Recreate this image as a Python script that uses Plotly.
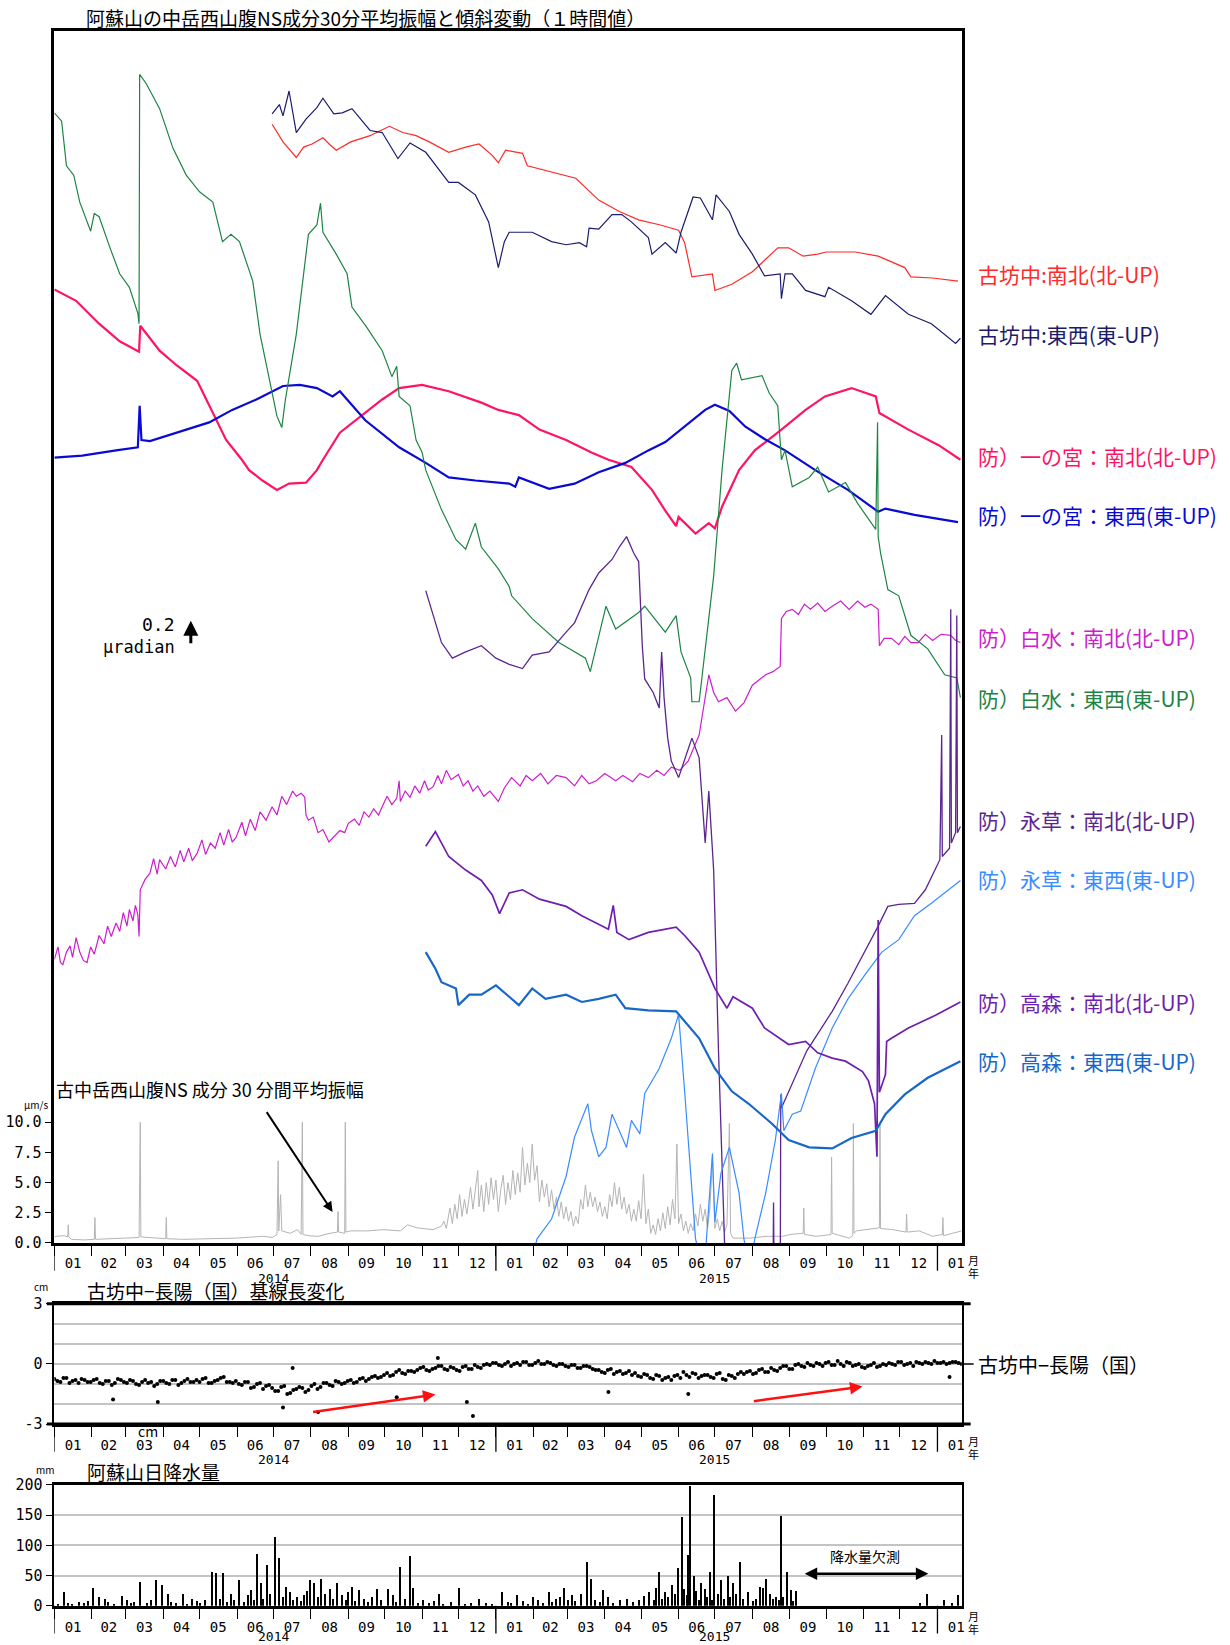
import pandas as pd
import plotly.graph_objects as go

START = "2014-01-01"
END = "2016-01-21"
T0 = pd.Timestamp(START)


def dates(days):
    return [T0 + pd.Timedelta(days=float(d)) for d in days]


# ---------------- tilt records (days since 2014-01-01, micro-radian offsets) ----------------
kbn_ns_day = [180, 189, 200, 206, 213, 222, 228, 233, 245, 261, 268, 277, 288, 299, 310, 326, 340, 351, 362, 367,
              373, 387, 391, 411, 431, 450, 467, 483, 501, 516, 521, 527, 544, 546, 560, 577, 598, 607, 619, 631,
              638, 662, 681, 703, 708, 726, 747]
kbn_ns_val = [10.77, 10.60, 10.45, 10.55, 10.58, 10.64, 10.57, 10.52, 10.60, 10.66, 10.70, 10.75, 10.69, 10.66, 10.60,
              10.50, 10.55, 10.58, 10.47, 10.40, 10.52, 10.49, 10.37, 10.31, 10.25, 10.04, 9.93, 9.85, 9.80, 9.75,
              9.63, 9.30, 9.33, 9.17, 9.23, 9.35, 9.58, 9.58, 9.50, 9.52, 9.54, 9.54, 9.50, 9.39, 9.30, 9.29, 9.26]

kbn_ew_day = [180, 186, 189, 194, 200, 208, 217, 222, 231, 238, 246, 261, 271, 284, 294, 307, 326, 334, 348, 359,
              367, 372, 376, 390, 395, 411, 423, 434, 440, 442, 450, 461, 469, 477, 491, 494, 505, 514, 518, 528,
              534, 544, 547, 558, 566, 577, 587, 600, 601, 604, 610, 621, 637, 640, 659, 675, 687, 706, 725, 745, 749]
kbn_ew_val = [10.87, 10.96, 10.85, 11.09, 10.69, 10.82, 10.93, 11.02, 10.87, 10.88, 10.92, 10.71, 10.69, 10.44, 10.59,
              10.50, 10.21, 10.21, 10.09, 9.83, 9.39, 9.64, 9.73, 9.73, 9.73, 9.64, 9.61, 9.63, 9.59, 9.77,
              9.76, 9.90, 9.90, 9.83, 9.68, 9.52, 9.63, 9.53, 9.73, 10.07, 10.06, 9.85, 10.09, 9.93, 9.71,
              9.52, 9.31, 9.33, 9.09, 9.33, 9.33, 9.17, 9.11, 9.20, 9.07, 8.94, 9.12, 8.94, 8.85, 8.66, 8.71]

ichi_ns_day = [0, 18, 37, 54, 70, 71, 87, 101, 118, 128, 142, 155, 161, 172, 184, 194, 208, 217, 222, 236,
               249, 271, 285, 304, 326, 353, 367, 384, 401, 423, 444, 458, 477, 494, 505, 514, 516, 530, 541, 546,
               552, 566, 579, 588, 601, 621, 637, 659, 679, 682, 706, 731, 749]
ichi_ns_val = [9.18, 9.07, 8.85, 8.68, 8.58, 8.83, 8.59, 8.45, 8.30, 8.06, 7.73, 7.54, 7.44, 7.34, 7.25, 7.31, 7.32,
               7.44, 7.54, 7.80, 7.92, 8.12, 8.23, 8.26, 8.20, 8.09, 8.02, 7.97, 7.83, 7.73, 7.61, 7.54, 7.47, 7.25,
               7.05, 6.90, 6.99, 6.83, 6.93, 6.88, 7.09, 7.44, 7.63, 7.71, 7.83, 8.02, 8.15, 8.23, 8.15, 7.99,
               7.83, 7.68, 7.54]

ichi_ew_day = [0, 23, 51, 69, 70.5, 72, 79, 107, 128, 147, 167, 189, 203, 217, 230, 236, 244, 257, 285, 307,
               326, 348, 376, 381, 384, 409, 430, 450, 472, 491, 505, 521, 538, 546, 558, 571, 587, 604, 629, 656,
               681, 687, 711, 747]
ichi_ew_val = [7.56, 7.58, 7.63, 7.66, 8.06, 7.73, 7.72, 7.82, 7.90, 8.02, 8.12, 8.25, 8.26, 8.23, 8.15, 8.20, 8.09,
               7.92, 7.66, 7.51, 7.37, 7.34, 7.31, 7.28, 7.37, 7.26, 7.31, 7.42, 7.51, 7.63, 7.71, 7.86, 8.02, 8.07,
               8.01, 7.86, 7.74, 7.63, 7.44, 7.25, 7.04, 7.07, 7.01, 6.94]

shira_ns_day = [0, 3, 5, 7, 10, 13, 15, 18, 21, 24, 27, 30, 33, 37, 41, 44, 47, 51, 54, 57,
                60, 62, 65, 67, 69, 70, 71, 75, 79, 82, 85, 87, 92, 96, 100, 104, 107, 111, 114, 118,
                122, 125, 129, 133, 137, 140, 144, 147, 150, 155, 158, 162, 166, 170, 175, 180, 184, 188, 192, 197,
                200, 204, 207, 208, 210, 214, 218, 222, 227, 232, 236, 240, 243, 248, 252, 256, 260, 264, 268, 271,
                275, 279, 283, 285, 286, 290, 294, 298, 302, 306, 309, 313, 317, 320, 324, 328, 334, 338, 342, 346,
                350, 355, 360, 367, 372, 378, 385, 390, 395, 402, 408, 415, 423, 430, 436, 442, 448, 455, 464, 470,
                478, 484, 491, 498, 504, 510, 517, 524, 533, 541, 545, 549, 556, 563, 570, 577, 583, 588, 594, 598,
                600, 601, 605, 610, 615, 620, 625, 631, 637, 643, 650, 657, 664, 670, 675, 681, 682, 686, 692, 698,
                703, 708, 714, 720, 726, 733, 741, 745, 749]
shira_ns_val = [2.73, 2.85, 2.70, 2.68, 2.80, 2.86, 2.75, 2.94, 2.80, 2.72, 2.70, 2.85, 2.78, 2.96, 2.88, 3.05, 2.95,
                3.08, 3.00, 3.18, 3.05, 3.21, 3.10, 3.25, 3.16, 2.95, 3.40, 3.50, 3.56, 3.70, 3.55, 3.69, 3.60, 3.72,
                3.62, 3.78, 3.67, 3.80, 3.68, 3.75, 3.88, 3.74, 3.85, 3.80, 3.95, 3.83, 3.98, 3.86, 3.90, 4.05, 3.92,
                4.08, 3.97, 4.15, 4.07, 4.20, 4.12, 4.30, 4.22, 4.35, 4.30, 4.33, 4.29, 4.12, 4.07, 4.10, 3.95, 3.98,
                3.86, 3.92, 3.97, 3.95, 4.04, 4.08, 4.02, 4.15, 4.10, 4.18, 4.12, 4.20, 4.30, 4.22, 4.28, 4.45, 4.25,
                4.35, 4.29, 4.40, 4.33, 4.45, 4.36, 4.39, 4.50, 4.42, 4.55, 4.46, 4.51, 4.40, 4.45, 4.35, 4.40, 4.30,
                4.35, 4.25, 4.38, 4.48, 4.40, 4.50, 4.45, 4.52, 4.42, 4.50, 4.48, 4.40, 4.50, 4.42, 4.45, 4.52, 4.45,
                4.50, 4.44, 4.52, 4.48, 4.55, 4.50, 4.58, 4.55, 4.64, 4.89, 5.47, 5.30, 5.21, 5.25, 5.12, 5.20, 5.37,
                5.42, 5.47, 5.50, 5.53, 5.55, 6.01, 6.08, 6.10, 6.05, 6.15, 6.10, 6.16, 6.08, 6.13, 6.18, 6.10, 6.18,
                6.12, 6.15, 6.10, 5.75, 5.82, 5.82, 5.76, 5.84, 5.78, 5.78, 5.86, 5.80, 5.86, 5.85, 5.80, 5.78]

shira_ew_day = [0, 6, 10, 16, 21, 27, 30, 33, 37, 46, 54, 62, 69, 70, 70.5, 76, 87, 98, 109, 120,
                131, 139, 146, 153, 164, 170, 178, 184, 188, 191, 200, 210, 217, 220, 222, 233, 242, 246, 258, 271,
                279, 283, 285, 294, 299, 304, 307, 320, 332, 340, 348, 353, 367, 376, 378, 395, 417, 439, 443, 456,
                464, 483, 488, 505, 514, 518, 526, 527, 533, 545, 552, 560, 564, 568, 585, 591, 598, 601, 604, 610,
                624, 631, 640, 654, 664, 679, 680.5, 681, 683, 689, 698, 708, 722, 736, 746, 749]
shira_ew_val = [10.88, 10.80, 10.37, 10.28, 10.02, 9.83, 9.74, 9.91, 9.88, 9.58, 9.33, 9.20, 8.95, 8.85, 11.25,
                11.16, 10.92, 10.54, 10.28, 10.12, 10.02, 9.64, 9.71, 9.64, 9.26, 8.75, 8.31, 7.96, 7.85, 8.12,
                8.75, 9.71, 9.80, 10.01, 9.73, 9.52, 9.33, 9.01, 8.82, 8.59, 8.34, 8.44, 8.15, 8.06, 7.73, 7.61,
                7.44, 7.06, 6.77, 6.68, 6.93, 6.70, 6.49, 6.32, 6.23, 6.01, 5.78, 5.63, 5.50, 6.13, 5.91, 6.07,
                6.13, 5.88, 6.04, 5.69, 5.44, 5.21, 5.21, 6.42, 7.45, 8.40, 8.47, 8.31, 8.35, 8.18, 8.06, 7.54,
                7.63, 7.28, 7.37, 7.47, 7.23, 7.32, 7.12, 6.87, 7.90, 6.80, 6.64, 6.29, 6.23, 5.85, 5.72, 5.47,
                5.44, 5.25]

eiso_ns_day = [307, 313, 320, 329, 340, 353, 365, 376, 387, 395, 409, 423, 430, 442, 450, 461, 467, 473, 479, 483,
               486, 488, 495, 500, 502, 504, 507, 510, 516, 527, 533, 538, 541, 545, 549, 554, 560, 594, 594.5, 595,
               600, 600.5, 601, 622, 643, 656, 670, 681, 689, 698, 711, 720, 732, 733.5, 734, 740, 741, 741.5, 745,
               746, 746.5, 749]
eiso_ns_val = [6.28, 6.04, 5.78, 5.63, 5.69, 5.75, 5.63, 5.57, 5.53, 5.66, 5.69, 5.88, 5.97, 6.29, 6.45, 6.58, 6.70,
               6.80, 6.64, 6.56, 5.75, 5.43, 5.30, 5.15, 5.69, 5.25, 4.86, 4.64, 4.48, 4.86, 4.67, 3.85, 4.35, 3.59,
               1.85, 0.0, -0.4, -0.4, 0.39, -0.4, -0.4, 1.43, 1.30, 1.85, 2.23, 2.50, 2.80, 3.05, 3.24, 3.26, 3.27,
               3.40, 3.69, 4.89, 3.72, 3.80, 6.10, 3.85, 3.95, 6.04, 3.95, 4.01]

eiso_ew_day = [392, 399, 411, 423, 430, 441, 444, 450, 456, 461, 467, 473, 477, 484, 488, 500, 510, 516, 521, 526,
               530, 537, 544, 546, 551, 558, 566, 570, 575, 579, 588, 596, 601, 603, 610, 617, 629, 643, 656, 670,
               684, 698, 711, 725, 739, 749]
eiso_ew_val = [-0.3, 0.04, 0.23, 0.64, 1.02, 1.34, 1.08, 0.83, 0.92, 1.24, 1.08, 0.92, 1.18, 1.05, 1.44, 1.68, 1.97,
               2.20, 1.46, 0.67, 0.04, -0.3, 0.86, 0.20, 0.67, 0.92, 0.48, 0.04, -0.3, 0.04, 0.48, 0.99, 1.44, 1.08,
               1.24, 1.27, 1.68, 2.07, 2.35, 2.58, 2.80, 2.92, 3.15, 3.27, 3.40, 3.49]

taka_ns_day = [307, 315, 326, 340, 353, 362, 368, 376, 387, 401, 423, 436, 458, 462, 465, 475, 491, 514, 521, 533,
               546, 556, 561, 577, 587, 607, 621, 631, 643, 654, 668, 673, 678, 680, 681, 682, 687, 688, 692, 706,
               717, 728, 749]
taka_ns_val = [3.82, 3.96, 3.72, 3.59, 3.49, 3.35, 3.17, 3.37, 3.40, 3.31, 3.24, 3.15, 3.02, 3.25, 2.99, 2.92, 2.99,
               3.04, 2.96, 2.80, 2.45, 2.26, 2.37, 2.26, 2.07, 1.91, 1.94, 1.83, 1.78, 1.75, 1.65, 1.56, 1.34, 0.83,
               3.11, 1.45, 1.62, 1.94, 1.97, 2.07, 2.13, 2.19, 2.32]

taka_ew_day = [307, 315, 320, 332, 334, 343, 353, 365, 376, 384, 395, 406, 423, 436, 450, 464, 472, 491, 514, 521,
               533, 546, 560, 574, 593, 607, 624, 643, 659, 679, 687, 703, 722, 749]
taka_ew_val = [2.80, 2.64, 2.51, 2.45, 2.29, 2.39, 2.39, 2.48, 2.37, 2.29, 2.45, 2.35, 2.39, 2.32, 2.35, 2.39, 2.26,
               2.24, 2.23, 2.13, 1.97, 1.68, 1.46, 1.34, 1.15, 0.99, 0.92, 0.91, 1.01, 1.08, 1.24, 1.43, 1.59, 1.75]

# ---------------- 30-minute mean amplitude, NS component (um/s) ----------------
amp_day = [0, 1.4, 8, 11, 11.5, 12, 14, 25, 33, 33.5, 34, 53, 70, 71, 71.5, 85, 92, 92.5, 93, 107, 135, 150, 173,
           180, 184, 185, 185.5, 187, 188, 195, 201, 204, 205, 205.5, 210, 218, 228, 234, 234.5, 235, 240, 240.5,
           241, 245, 259, 272, 286, 292, 300, 313,
           320, 322, 324, 327, 329, 331, 333, 335, 337, 339, 341, 344, 346, 348, 350, 351, 353, 355, 357, 359,
           361, 363, 365, 367, 369, 371, 373, 375, 377, 379, 381, 383, 385, 387, 389, 391, 393, 395, 397, 399,
           401, 403, 405, 407, 409, 411, 413, 415, 417, 419, 421, 423, 425, 427, 429, 431, 433, 435, 437, 439,
           441, 443, 445, 447, 449, 451, 453, 455, 457, 459, 461, 463, 465, 467, 469, 471, 473, 475, 477, 479,
           481, 483, 485, 487, 489, 491, 493, 495, 497, 499, 501, 503, 505, 507, 509, 511, 513, 514.6, 516, 518,
           520, 522, 524, 526, 528, 530, 532, 534, 536, 538, 540, 542, 544, 546, 548, 550, 552, 554, 556, 558,
           559, 561, 575, 589, 602, 608, 619, 619.5, 620, 630, 642, 642.5, 643, 657, 660, 660.5, 661, 663,
           671, 682, 682.5, 683, 693, 704, 704.5, 705, 715, 726, 734, 734.5, 735, 750]
amp_val = [0.5, 0.55, 0.6, 0.5, 1.5, 0.5, 0.3, 0.25, 0.3, 2.1, 0.3, 0.4, 0.45, 10.0, 0.5, 0.4, 0.35, 2.1, 0.35, 0.3,
           0.35, 0.4, 0.55, 0.45, 0.7, 6.8, 1.0, 4.0, 1.0, 0.8, 1.1, 0.7, 10.0, 0.7, 0.6, 0.55, 0.8, 0.9, 2.6, 0.9,
           0.8, 10.0, 0.9, 1.0, 1.0, 1.1, 1.0, 1.5, 1.25, 1.1,
           1.4, 1.8, 1.2, 2.9, 1.6, 3.2, 2.0, 4.0, 2.2, 3.6, 2.4, 4.6, 2.8, 4.2, 6.0, 3.0, 4.8, 2.6, 5.0, 3.2,
           5.4, 3.6, 5.2, 2.6, 4.4, 5.6, 3.2, 5.0, 3.6, 6.0, 4.0, 5.8, 4.2, 7.9, 4.8, 6.6, 5.0, 8.2, 5.2, 6.4,
           3.4, 5.2, 3.8, 4.9, 3.0, 4.4, 2.8, 3.8, 2.2, 3.4, 2.0, 3.0, 1.8, 2.6, 1.4, 2.2, 1.6, 3.6, 2.8, 4.8,
           3.0, 4.2, 3.0, 3.8, 2.6, 3.4, 2.2, 3.0, 2.0, 4.0, 3.0, 5.0, 3.2, 4.6, 2.8, 3.8, 2.4, 3.2, 1.8, 2.8,
           1.8, 3.5, 2.0, 5.7, 1.6, 2.8, 0.8, 1.5, 0.7, 2.0, 1.0, 2.5, 1.2, 3.0, 1.5, 3.6, 2.0, 8.2, 1.6, 2.4,
           1.0, 1.8, 0.8, 1.6, 1.0, 2.4, 1.4, 3.2, 1.8, 2.8, 1.2, 3.0, 7.1, 1.2, 2.0, 1.0, 1.8, 0.9, 1.5, 9.9,
           0.8, 0.4, 0.4, 0.55, 0.55, 0.7, 0.8, 2.9, 0.7, 0.55, 0.7, 7.1, 0.8, 0.4, 0.6, 9.9, 0.8, 1.0,
           1.1, 1.25, 10.0, 1.2, 1.1, 0.9, 2.4, 0.9, 1.0, 0.55, 0.7, 2.1, 0.6, 1.0]

# ---------------- GNSS baseline length change (cm), two interleaved 5-day series ----------------
base_cm = [
    -0.75, -0.90, -0.70, -0.85, -0.95, -0.80,   # 2014-01
    -0.90, -0.75, -1.00, -0.85, -0.95, -0.80,   # 2014-02
    -0.95, -0.85, -1.05, -0.80, -0.90, -1.00,   # 2014-03
    -0.85, -1.00, -0.80, -0.95, -0.75, -0.90,   # 2014-04
    -0.90, -0.70, -0.95, -0.80, -0.65, -0.90,   # 2014-05
    -0.85, -1.05, -0.90, -1.15, -0.95, -1.10,   # 2014-06
    -1.20, -1.35, -1.10, -1.45, -1.25, -1.20,   # 2014-07
    -1.30, -1.00, -1.15, -0.95, -1.10, -0.90,   # 2014-08
    -0.95, -0.80, -0.90, -0.70, -0.75, -0.60,   # 2014-09
    -0.65, -0.45, -0.55, -0.30, -0.50, -0.35,   # 2014-10
    -0.30, -0.15, -0.35, -0.20, -0.10, -0.30,   # 2014-11
    -0.20, -0.35, -0.10, -0.25, -0.15, -0.05,   # 2014-12
    -0.05, 0.05, -0.10, 0.10, 0.00, -0.05,      # 2015-01
    0.10, -0.05, 0.15, 0.00, 0.05, -0.10,       # 2015-02
    0.00, -0.15, -0.05, -0.20, -0.10, -0.25,    # 2015-03
    -0.30, -0.45, -0.25, -0.40, -0.50, -0.35,   # 2015-04
    -0.45, -0.65, -0.55, -0.75, -0.60, -0.70,   # 2015-05
    -0.80, -0.55, -0.40, -0.65, -0.50, -0.60,   # 2015-06
    -0.55, -0.70, -0.45, -0.80, -0.60, -0.50,   # 2015-07
    -0.50, -0.35, -0.45, -0.25, -0.40, -0.30,   # 2015-08
    -0.20, -0.10, -0.25, 0.00, -0.15, -0.05,    # 2015-09
    0.05, -0.10, 0.10, -0.05, 0.00, 0.10,       # 2015-10
    -0.10, 0.00, -0.20, -0.05, -0.15, 0.00,     # 2015-11
    0.05, -0.05, 0.10, 0.00, -0.10, 0.05,       # 2015-12
    0.10, 0.00, 0.05, 0.10, 0.05, 0.10, 0.00,   # 2016-01
]
base_cm_mid = [
    -0.85, -0.70, -0.95, -0.80, -0.75, -0.90,   # 2014-01
    -0.80, -0.95, -0.85, -1.05, -0.75, -0.90,   # 2014-02
    -0.80, -1.00, -0.90, -0.95, -1.10, -0.85,   # 2014-03
    -0.95, -0.80, -1.05, -0.85, -0.90, -0.80,   # 2014-04
    -0.75, -0.95, -0.85, -0.70, -0.90, -0.95,   # 2014-05
    -1.00, -0.90, -1.20, -1.00, -1.25, -1.05,   # 2014-06
    -1.35, -1.15, -1.50, -1.30, -1.15, -1.40,   # 2014-07
    -1.10, -1.25, -0.95, -1.05, -0.85, -1.00,   # 2014-08
    -0.85, -0.95, -0.75, -0.85, -0.65, -0.70,   # 2014-09
    -0.55, -0.60, -0.40, -0.45, -0.35, -0.40,   # 2014-10
    -0.20, -0.30, -0.25, -0.10, -0.25, -0.15,   # 2014-11
    -0.30, -0.15, -0.25, -0.05, -0.20, 0.00,    # 2014-12
    0.05, -0.05, 0.00, -0.10, 0.05, 0.10,       # 2015-01
    -0.05, 0.05, 0.00, 0.10, -0.05, 0.00,       # 2015-02
    -0.10, -0.05, -0.20, -0.10, -0.15, -0.30,   # 2015-03
    -0.40, -0.30, -0.50, -0.35, -0.45, -0.55,   # 2015-04
    -0.60, -0.50, -0.70, -0.55, -0.80, -0.65,   # 2015-05
    -0.60, -0.70, -0.55, -0.45, -0.70, -0.55,   # 2015-06
    -0.65, -0.50, -0.75, -0.55, -0.70, -0.40,   # 2015-07
    -0.40, -0.50, -0.30, -0.40, -0.20, -0.35,   # 2015-08
    -0.10, -0.25, -0.05, -0.10, 0.05, -0.10,    # 2015-09
    0.00, 0.05, -0.05, 0.15, -0.10, 0.05,       # 2015-10
    -0.05, -0.15, -0.10, 0.05, -0.10, -0.05,    # 2015-11
    0.00, 0.10, -0.05, 0.05, 0.10, 0.00,        # 2015-12
    0.05, 0.15, 0.05, 0.00, 0.10, 0.05, 0.10,   # 2016-01
]
base_step_days = 5
base_out_day = [48.5, 85.5, 189, 197, 218, 283, 317, 341, 346, 458, 524, 740]
base_out_cm = [-1.77, -1.90, -2.17, -0.20, -2.40, -1.66, 0.30, -1.90, -2.60, -1.40, -1.50, -0.65]

# ---------------- daily precipitation at Asosan (mm) ----------------
rain_day = [3, 8, 12, 15, 21, 25, 28, 32, 37, 42, 45, 50, 56, 60, 64, 66, 71, 77, 80, 84, 89, 94, 97, 101, 107,
            110, 114, 118, 121, 125, 131, 134, 137, 140, 143, 146, 149, 153, 157, 160, 163, 165, 168, 171, 173,
            176, 179, 183, 186, 189, 192, 195, 198, 201, 204, 207, 209, 212, 215, 218, 221, 224, 228, 231, 234,
            238, 241, 243, 246, 249, 252, 256, 260, 263, 267, 270, 276, 280, 283, 286, 290, 294, 297, 301, 305,
            310, 314, 318, 322, 328, 335, 340, 345, 351, 357, 362, 370, 375, 378, 383, 388, 392, 396, 400, 404,
            409, 412, 415, 418, 422, 425, 428, 431, 436, 441, 444, 447, 451, 454, 458, 462, 468, 474, 479, 484,
            488, 492, 496, 498, 500, 503, 505, 508, 511, 513, 516, 519, 521, 523, 524, 526, 529, 531, 533, 535,
            538, 540, 542, 544, 546, 549, 551, 554, 557, 559, 561, 564, 567, 570, 574, 578, 580, 584, 586, 589,
            592, 594, 597, 599, 601, 603, 606, 609, 611, 613, 716, 722, 736, 742, 747]
rain_mm = [3, 22, 4, 2, 7, 5, 8, 29, 15, 12, 6, 3, 16, 10, 4, 6, 40, 5, 9, 43, 35, 19, 7, 4, 20,
           3, 12, 8, 5, 10, 56, 55, 12, 55, 7, 20, 9, 42, 6, 18, 26, 9, 85, 38, 12,
           67, 20, 114, 79, 15, 31, 23, 10, 14, 8, 18, 25, 42, 37, 15, 45, 20, 28, 12, 37,
           18, 10, 22, 31, 8, 26, 12, 6, 14, 28, 10, 27, 18, 6, 64, 12, 82, 30, 4, 10,
           5, 8, 20, 3, 6, 29, 3, 5, 12, 4, 3, 23, 6, 4, 18, 8, 3, 15, 10, 5,
           23, 7, 12, 15, 29, 10, 18, 8, 20, 73, 45, 9, 6, 26, 14, 5, 10, 12, 6, 9,
           16, 23, 10, 30, 56, 12, 23, 15, 35, 20, 62, 147, 28, 18, 84, 199, 50, 25, 10, 37,
           28, 15, 56, 10, 184, 20, 42, 12, 50, 15, 37, 20, 73, 12, 23, 8, 12, 31, 30, 45,
           20, 12, 15, 10, 148, 15, 56, 26, 8, 24, 5, 20, 9, 4, 18]

# ---------------- series styling: label, colour, data, line width, label row (px) ----------------
TILT = [
    ("古坊中:南北(北-UP)", "#ff2a2a", kbn_ns_day, kbn_ns_val, 1.2, 268),
    ("古坊中:東西(東-UP)", "#1c1c6c", kbn_ew_day, kbn_ew_val, 1.2, 329),
    ("防）一の宮：南北(北-UP)", "#ff1464", ichi_ns_day, ichi_ns_val, 2.2, 452),
    ("防）一の宮：東西(東-UP)", "#0a0ad2", ichi_ew_day, ichi_ew_val, 2.2, 512),
    ("防）白水：南北(北-UP)", "#cc1fcc", shira_ns_day, shira_ns_val, 1.2, 635),
    ("防）白水：東西(東-UP)", "#1e8444", shira_ew_day, shira_ew_val, 1.2, 697),
    ("防）永草：南北(北-UP)", "#5c2590", eiso_ns_day, eiso_ns_val, 1.3, 820),
    ("防）永草：東西(東-UP)", "#3a8cff", eiso_ew_day, eiso_ew_val, 1.2, 880),
    ("防）高森：南北(北-UP)", "#6e1fb0", taka_ns_day, taka_ns_val, 1.7, 1004),
    ("防）高森：東西(東-UP)", "#1767c8", taka_ew_day, taka_ew_val, 2.2, 1064),
]

W, H = 1230, 1645
XL, XR = 54.5, 964.0
TOP = (22.0, 1247.6)
BASE = (1309.1, 1430.7)
RAIN = (1492.3, 1614.4)
JP = "Noto Sans CJK JP"
MONO = "DejaVu Sans Mono"


def px(x, y):
    return x / W, 1 - y / H


def dom(a, b):
    return [1 - b / H, 1 - a / H]


fig = go.Figure()

# amplitude first so the tilt curves sit on top of it
fig.add_trace(go.Scatter(x=dates(amp_day), y=amp_val, mode="lines", xaxis="x", yaxis="y",
                         line=dict(color="#b4b4b4", width=1), hoverinfo="skip"))

for name, color, d, v, lw, _ in TILT:
    fig.add_trace(go.Scatter(x=dates(d), y=v, mode="lines", xaxis="x", yaxis="y2", name=name,
                             line=dict(color=color, width=lw)))

base_days = [i * base_step_days for i in range(len(base_cm))]
base_days_mid = [2.5 + i * base_step_days for i in range(len(base_cm_mid))]
for bx, by in ((base_days, base_cm), (base_days_mid, base_cm_mid), (base_out_day, base_out_cm)):
    fig.add_trace(go.Scatter(x=dates(bx), y=by, mode="markers", xaxis="x2", yaxis="y3",
                             marker=dict(color="black", size=4)))

fig.add_trace(go.Bar(x=dates(rain_day), y=rain_mm, xaxis="x3", yaxis="y4",
                     marker=dict(color="black", line=dict(width=0)), width=86400000 * 0.9))

xcommon = dict(type="date", range=[START, END], dtick="M1", tick0=START, tickformat="%m",
               ticklabelmode="period", ticks="outside", ticklen=10, tickwidth=1.3, tickcolor="black",
               ticklabelstandoff=-4,
               showgrid=False, zeroline=False, showline=True, linecolor="black", mirror=True,
               tickfont=dict(family=MONO, size=14, color="black"), domain=[XL / W, XR / W])
ycommon = dict(ticks="outside", ticklen=7, tickwidth=1.3, tickcolor="black", zeroline=False,
               showline=True, linecolor="black", mirror=True,
               tickfont=dict(family=MONO, size=15, color="black"))

fig.update_layout(
    width=W, height=H, margin=dict(l=0, r=0, t=0, b=0),
    paper_bgcolor="white", plot_bgcolor="white", showlegend=False, bargap=0,
    xaxis=dict(**xcommon, anchor="y", linewidth=2.5),
    yaxis=dict(**ycommon, domain=dom(*TOP), range=[0, 100.4], linewidth=2.5,
               tickvals=[0, 2.5, 5, 7.5, 10], ticktext=["0.0", "2.5", "5.0", "7.5", "10.0"], showgrid=False),
    yaxis2=dict(overlaying="y", anchor="x", range=[0, 11.67], visible=False),
    xaxis2=dict(**xcommon, anchor="y3", linewidth=3),
    yaxis3=dict(**ycommon, domain=dom(*BASE), range=[-3, 3], linewidth=1.5,
                tickvals=[-3, 0, 3], ticktext=["-3", "0", "3"], showgrid=False,
                minor=dict(tickvals=[-2, -1, 0, 1, 2], showgrid=True, gridcolor="#c4c4c4", gridwidth=2, ticks="")),
    xaxis3=dict(**xcommon, anchor="y4", linewidth=3),
    yaxis4=dict(**ycommon, domain=dom(*RAIN), range=[0, 200], linewidth=1.5,
                tickvals=[0, 50, 100, 150, 200], showgrid=True, gridcolor="#c4c4c4", gridwidth=2),
)

ann = []
shapes = []


def text(x, y, s, size, color="black", family=JP, xanchor="left"):
    ax, ay = px(x, y)
    ann.append(dict(x=ax, y=ay, xref="paper", yref="paper", text=s, showarrow=False, xanchor=xanchor,
                    yanchor="middle", font=dict(family=family, size=size, color=color)))


# titles and unit labels
text(84, 9, "阿蘇山の中岳西山腹NS成分30分平均振幅と傾斜変動（１時間値）", 19)
text(54, 1092, "古中岳西山腹NS 成分 30 分間平均振幅", 18)
text(85, 1296, "古坊中−長陽（国）基線長変化", 19)
text(85, 1479, "阿蘇山日降水量", 19)
text(22, 1108, "μm/s", 10)
text(32, 1292, "cm", 10)
text(34, 1477, "mm", 10)
text(136, 1438, "cm", 14)
text(867, 1564, "降水量欠測", 14, xanchor="center")
text(177, 622, "0.2", 18, family=MONO, xanchor="right")
text(177, 645, "μradian", 17, family=MONO, xanchor="right")
text(978, 1371, "古坊中−長陽（国）", 20)

for name, color, _, _, _, ypos in TILT:
    text(978, ypos, name, 21, color=color)

# month/year markers below each time axis
for bottom, ypx in ((TOP[1], 1284), (BASE[1], 1467), (RAIN[1], 1646)):
    for yr in ("2014", "2015"):
        ann.append(dict(x=f"{yr}-07-01", y=px(0, ypx)[1], xref="x", yref="paper", text=yr, showarrow=False,
                        xanchor="center", yanchor="middle", font=dict(family=MONO, size=13, color="black")))
    text(976, min(ypx, 1644) - 19, "月", 11, xanchor="center")
    text(976, min(ypx, 1644) - 6, "年", 11, xanchor="center")
    for yb in ("2014-01-01", "2015-01-01", "2016-01-01"):
        shapes.append(dict(type="line", xref="x", yref="paper", x0=yb, x1=yb,
                           y0=1 - bottom / H, y1=1 - (bottom + 28) / H, line=dict(color="black", width=1.3)))

# heavy frame lines of the baseline panel extend past the plot edges
for ypx in BASE:
    shapes.append(dict(type="line", xref="paper", yref="paper", x0=47 / W, x1=973 / W,
                       y0=1 - ypx / H, y1=1 - ypx / H, line=dict(color="black", width=3)))
shapes.append(dict(type="line", xref="paper", yref="paper", x0=XR / W, x1=976 / W,
                   y0=1 - 1370 / H, y1=1 - 1370 / H, line=dict(color="black", width=1.5)))


def arrow(xd, yv, axd, ayv, xa, ya, color, width, head=2, side="end"):
    ann.append(dict(x=dates([xd])[0], y=yv, ax=dates([axd])[0], ay=ayv, xref=xa, yref=ya,
                    axref=xa, ayref=ya, text="", showarrow=True, arrowhead=head, arrowsize=1,
                    arrowwidth=width, arrowcolor=color, arrowside=side))


arrow(112.8, 5.99, 112.8, 5.76, "x", "y2", "black", 3, head=2)
arrow(230, 2.57, 174.7, 10.96, "x", "y", "black", 2, head=2)
arrow(315, -1.53, 212.6, -2.41, "x2", "y3", "#ff1010", 2.5, head=2)
arrow(668, -1.13, 577, -1.87, "x2", "y3", "#ff1010", 2.5, head=2)
arrow(722.5, 53, 619, 53, "x3", "y4", "black", 2.5, head=2, side="end+start")

fig.update_layout(annotations=ann, shapes=shapes)
fig.write_html("out.html")
